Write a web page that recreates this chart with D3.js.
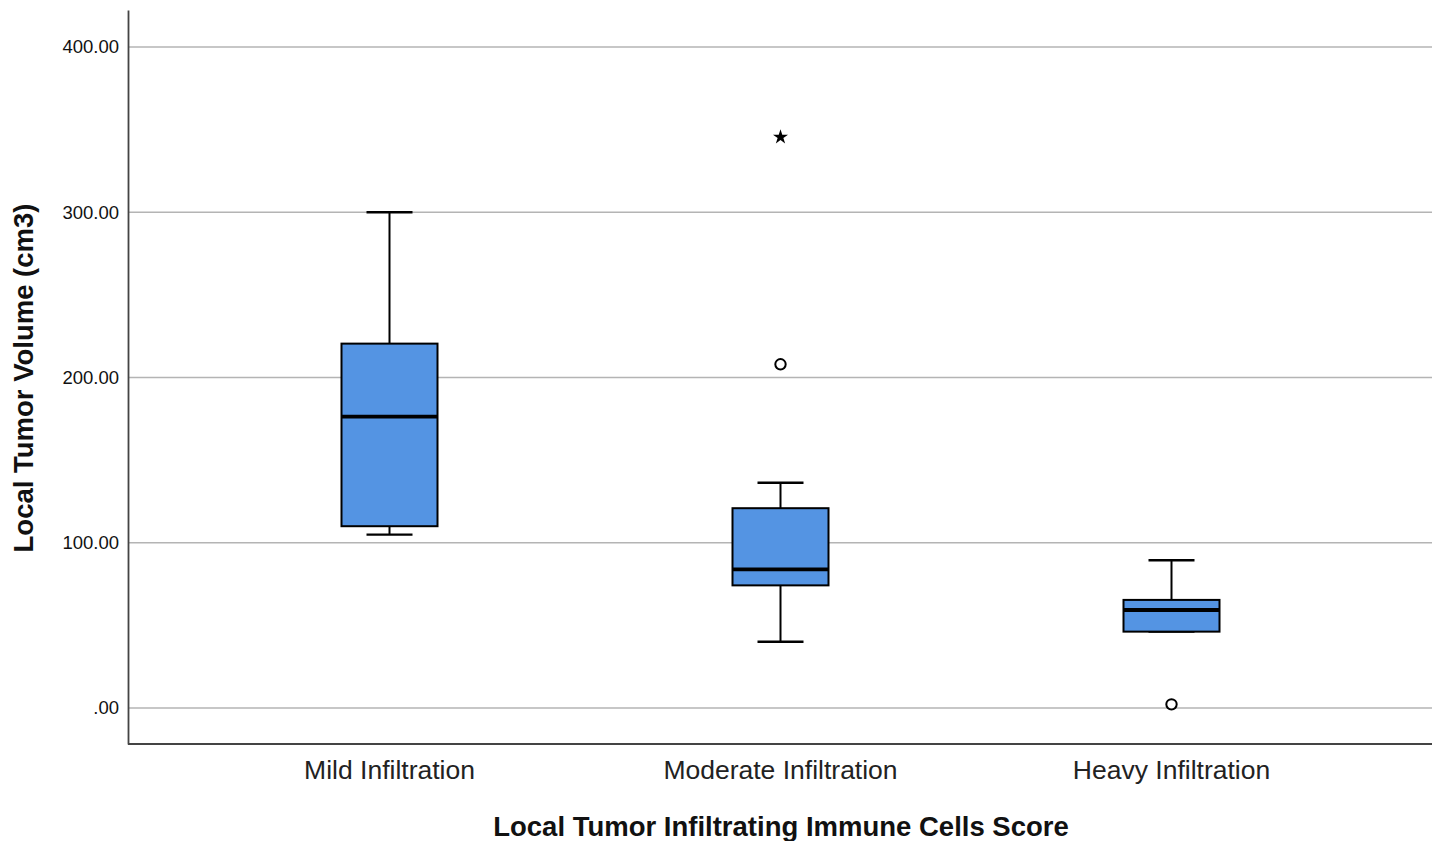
<!DOCTYPE html>
<html><head><meta charset="utf-8">
<script src="https://cdn.jsdelivr.net/npm/d3@7"></script>
<style>body{margin:0;background:#fff}svg{display:block}</style>
</head><body><svg id="c" width="1435" height="841"></svg>
<script>
const categories = ["Mild Infiltration", "Moderate Infiltration", "Heavy Infiltration"];
const whiskerLow = [104.9, 40.1, 46.2];
const q1 = [110.0, 74.2, 46.2];
const median = [176.3, 83.9, 59.3];
const q3 = [220.5, 120.9, 65.4];
const whiskerHigh = [300.0, 136.3, 89.4];
const outliers = [{cat: "Moderate Infiltration", v: 208.0}, {cat: "Heavy Infiltration", v: 2.2}];
const extremes = [{cat: "Moderate Infiltration", v: 345.5}];
const yTicks = [0, 100, 200, 300, 400];

const svg = d3.select("#c");
const x = d3.scaleBand().domain(categories).range([194, 1367]);
const y = d3.scaleLinear().domain([-21.8, 422.4]).range([744, 10]);
const boxW = 96, capW = 46;
const left = 128, right = 1432;

// gridlines
svg.append("g").selectAll("line").data(yTicks).join("line")
  .attr("x1", left).attr("x2", right)
  .attr("y1", d => y(d)).attr("y2", d => y(d))
  .attr("stroke", "#b4b4b4").attr("stroke-width", 1.6);

// y axis
const yAxis = d3.axisLeft(y).tickValues(yTicks).tickSize(0).tickPadding(9)
  .tickFormat(d => d3.format(".2f")(d).replace(/^0\./, "."));
const gy = svg.append("g").attr("transform", `translate(${left},0)`).call(yAxis);
gy.select(".domain").attr("stroke", "#444").attr("stroke-width", 1.8);
gy.selectAll("text").attr("font-family", "Arial, 'Liberation Sans', sans-serif").attr("font-size", 18.5).attr("fill", "#111");

// x axis
const xAxis = d3.axisBottom(x).tickSize(0).tickPadding(19);
const gx = svg.append("g").attr("transform", `translate(0,744)`).call(xAxis);
gx.select(".domain").attr("d", `M${left},0H${right}`).attr("stroke", "#444").attr("stroke-width", 1.8);
gx.selectAll("text").attr("font-family", "'Liberation Sans Narrow', 'Arial Narrow', Arial, sans-serif")
  .attr("font-size", 26.5).attr("fill", "#222").attr("dy", "0.62em");

const data = categories.map((c, i) => ({c, lo: whiskerLow[i], q1: q1[i], med: median[i], q3: q3[i], hi: whiskerHigh[i]}));
const cx = d => x(d.c) + x.bandwidth() / 2;
const g = svg.append("g");
const bx = g.selectAll("g").data(data).join("g");
bx.append("line").attr("x1", cx).attr("x2", cx).attr("y1", d => y(d.hi)).attr("y2", d => y(d.q3)).attr("stroke", "#000").attr("stroke-width", 2);
bx.append("line").attr("x1", cx).attr("x2", cx).attr("y1", d => y(d.q1)).attr("y2", d => y(d.lo)).attr("stroke", "#000").attr("stroke-width", 2);
bx.append("line").attr("x1", d => cx(d) - capW / 2).attr("x2", d => cx(d) + capW / 2).attr("y1", d => y(d.hi)).attr("y2", d => y(d.hi)).attr("stroke", "#000").attr("stroke-width", 2.4);
bx.append("line").attr("x1", d => cx(d) - capW / 2).attr("x2", d => cx(d) + capW / 2).attr("y1", d => y(d.lo)).attr("y2", d => y(d.lo)).attr("stroke", "#000").attr("stroke-width", 2.4);
bx.append("rect").attr("x", d => cx(d) - boxW / 2).attr("width", boxW)
  .attr("y", d => y(d.q3)).attr("height", d => y(d.q1) - y(d.q3))
  .attr("fill", "#5494e3").attr("stroke", "#000").attr("stroke-width", 2);
bx.append("line").attr("x1", d => cx(d) - boxW / 2).attr("x2", d => cx(d) + boxW / 2).attr("y1", d => y(d.med)).attr("y2", d => y(d.med)).attr("stroke", "#000").attr("stroke-width", 3.8);

// outliers
svg.append("g").selectAll("circle").data(outliers).join("circle")
  .attr("cx", d => x(d.cat) + x.bandwidth() / 2).attr("cy", d => y(d.v)).attr("r", 5.2)
  .attr("fill", "#fff").attr("stroke", "#000").attr("stroke-width", 2);
svg.append("g").selectAll("path").data(extremes).join("path")
  .attr("transform", d => `translate(${x(d.cat) + x.bandwidth() / 2},${y(d.v)})`)
  .attr("d", d3.symbol(d3.symbolStar, 70)).attr("fill", "#000");

// titles
svg.append("text").attr("transform", "translate(33,378) rotate(-90)").attr("text-anchor", "middle")
  .attr("font-family", "Arial, 'Liberation Sans', sans-serif").attr("font-weight", "bold").attr("font-size", 27.5).attr("fill", "#111")
  .text("Local Tumor Volume (cm3)");
svg.append("text").attr("x", 781).attr("y", 836).attr("text-anchor", "middle")
  .attr("font-family", "Arial, 'Liberation Sans', sans-serif").attr("font-weight", "bold").attr("font-size", 27.5).attr("fill", "#111")
  .text("Local Tumor Infiltrating Immune Cells Score");
</script></body></html>
